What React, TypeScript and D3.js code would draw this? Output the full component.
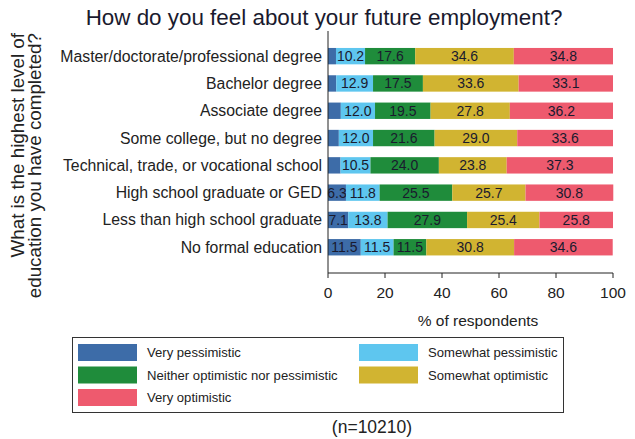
import React from "react";
import * as d3 from "d3";

const categories = [
  "Master/doctorate/professional degree",
  "Bachelor degree",
  "Associate degree",
  "Some college, but no degree",
  "Technical, trade, or vocational school",
  "High school graduate or GED",
  "Less than high school graduate",
  "No formal education",
];
const seriesNames = [
  "Very pessimistic",
  "Somewhat pessimistic",
  "Neither optimistic nor pessimistic",
  "Somewhat optimistic",
  "Very optimistic",
];
const veryPessimistic = [2.8, 2.9, 4.5, 3.8, 4.4, 6.3, 7.1, 11.5];
const somewhatPessimistic = [10.2, 12.9, 12.0, 12.0, 10.5, 11.8, 13.8, 11.5];
const neither = [17.6, 17.5, 19.5, 21.6, 24.0, 25.5, 27.9, 11.5];
const somewhatOptimistic = [34.6, 33.6, 27.8, 29.0, 23.8, 25.7, 25.4, 30.8];
const veryOptimistic = [34.8, 33.1, 36.2, 33.6, 37.3, 30.8, 25.8, 34.6];
const xTicks = [0, 20, 40, 60, 80, 100];
const colors = ["#3d6ca8", "#5ec6ef", "#1f8c3b", "#d1b431", "#ee5a6e"];

const series = [veryPessimistic, somewhatPessimistic, neither, somewhatOptimistic, veryOptimistic];

export default function App() {
  const W = 635, H = 439;
  const x = d3.scaleLinear().domain([0, 100]).range([328, 613]);
  const y = d3.scaleBand<string>().domain(categories).range([42.5, 260.9]).paddingInner(0.4).paddingOuter(0.2);
  const font = "Liberation Sans, Arial, sans-serif";
  const axisY = 273;

  const legendItems = [
    { i: 0, col: 0, row: 0 },
    { i: 1, col: 1, row: 0 },
    { i: 2, col: 0, row: 1 },
    { i: 3, col: 1, row: 1 },
    { i: 4, col: 0, row: 2 },
  ];

  return (
    <svg width={W} height={H} style={{ position: "absolute", left: 0, top: 0, background: "#fff" }} fontFamily={font}>
      <rect x={0} y={0} width={W} height={H} fill="#fff" />
      <text x={324} y={25} fontSize={22.4} textAnchor="middle" fill="#1a1a2e">
        How do you feel about your future employment?
      </text>
      <g transform="rotate(-90)" fontSize={18.8} fill="#222" textAnchor="end">
        <text x={-33} y={24}>What is the highest level of</text>
        <text x={-33} y={41}>education you have completed?</text>
      </g>
      {categories.map((c, ci) => {
        let acc = 0;
        const yy = y(c)!;
        const bw = y.bandwidth();
        return (
          <g key={c}>
            <text x={322} y={yy + bw / 2} dy="0.35em" textAnchor="end" fontSize={15.8} fill="#222">
              {c}
            </text>
            {series.map((s, si) => {
              const v = s[ci];
              const x0 = x(acc);
              acc += v;
              const x1 = x(acc);
              return (
                <g key={si}>
                  <rect x={x0} y={yy} width={x1 - x0} height={bw} fill={colors[si]} />
                  {v >= 5 && (
                    <text x={(x0 + x1) / 2} y={yy + bw / 2} dy="0.35em" textAnchor="middle" fontSize={14} fill="#1a1a2e">
                      {v.toFixed(1)}
                    </text>
                  )}
                </g>
              );
            })}
          </g>
        );
      })}
      <line x1={x(0)} x2={x(0)} y1={31} y2={axisY} stroke="#222" strokeWidth={1} />
      <line x1={x(0)} x2={x(100)} y1={axisY} y2={axisY} stroke="#222" strokeWidth={1} />
      {xTicks.map((t) => (
        <g key={t}>
          <line x1={x(t)} x2={x(t)} y1={axisY} y2={axisY + 5} stroke="#222" />
          <text x={x(t)} y={298} textAnchor="middle" fontSize={15.5} fill="#222">
            {t}
          </text>
        </g>
      ))}
      <text x={478} y={326} textAnchor="middle" fontSize={15.5} fill="#222">
        % of respondents
      </text>
      <rect x={72.5} y={337.5} width={491} height={75} fill="#fff" stroke="#333" strokeWidth={1} />
      {legendItems.map(({ i, col, row }) => {
        const sx = col === 0 ? 78 : 359;
        const sy = 344 + row * 22.5;
        return (
          <g key={i}>
            <rect x={sx} y={sy} width={59} height={17} fill={colors[i]} />
            <text x={sx + 69} y={sy + 8.5} dy="0.35em" fontSize={13.1} fill="#222">
              {seriesNames[i]}
            </text>
          </g>
        );
      })}
      <text x={372} y={433} textAnchor="middle" fontSize={17.5} fill="#222">
        (n=10210)
      </text>
    </svg>
  );
}
